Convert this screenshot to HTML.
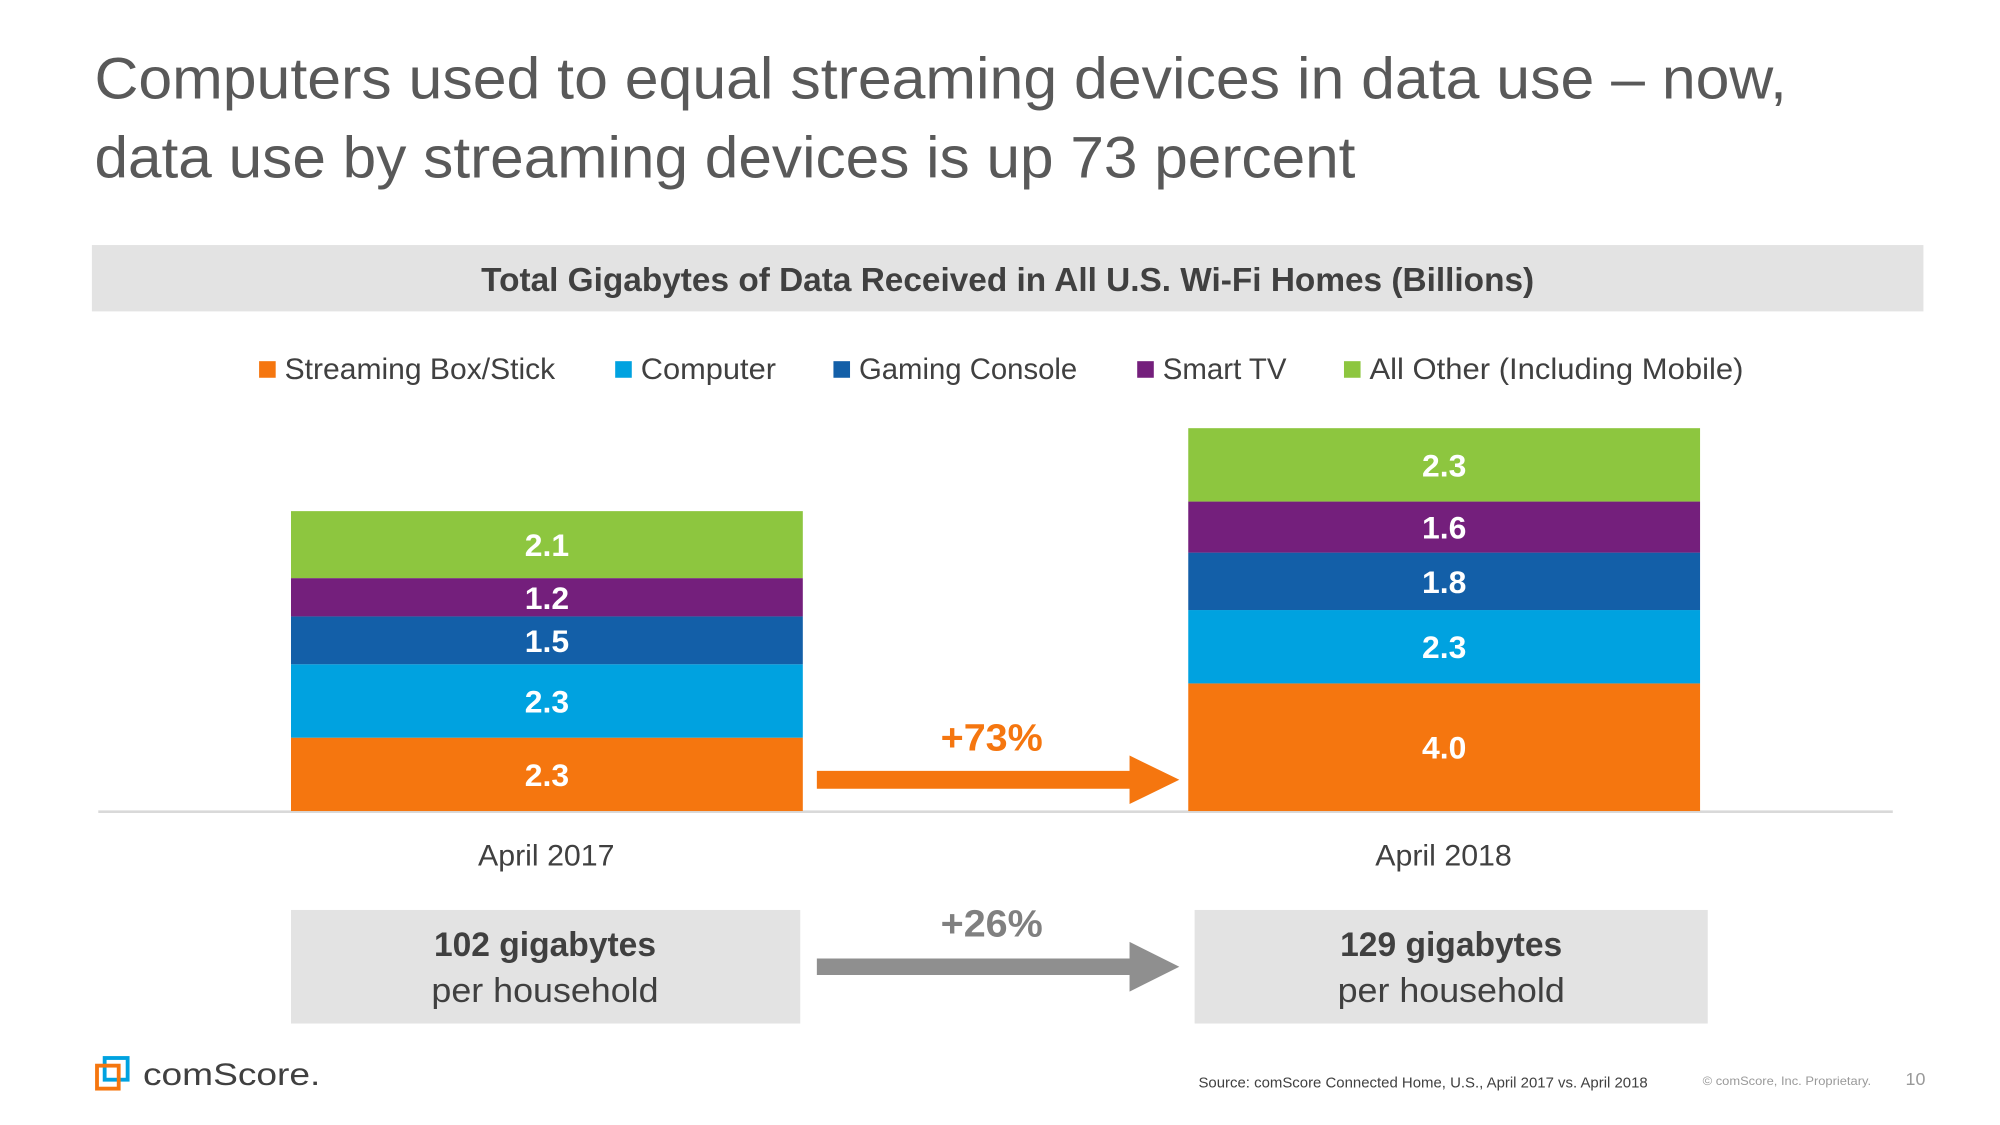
<!DOCTYPE html>
<html><head><meta charset="utf-8">
<style>
html,body{margin:0;padding:0;background:#fff;}
svg{display:block;font-family:"Liberation Sans",sans-serif;}
</style></head>
<body>
<svg id="chart" width="2000" height="1125" viewBox="0 0 1567 881.5" preserveAspectRatio="none" xmlns="http://www.w3.org/2000/svg">
  <text x="74" y="77" font-size="46" fill="#595959" textLength="1326" lengthAdjust="spacingAndGlyphs">Computers used to equal streaming devices in data use – now,</text>
  <text x="74" y="139" font-size="46" fill="#595959" textLength="988" lengthAdjust="spacingAndGlyphs">data use by streaming devices is up 73 percent</text>

  <rect x="72" y="192" width="1435" height="52" fill="#e3e3e3"/>
  <text x="377" y="228" font-size="26" font-weight="bold" fill="#404040" textLength="825" lengthAdjust="spacingAndGlyphs">Total Gigabytes of Data Received in All U.S. Wi-Fi Homes (Billions)</text>

  <g id="legend"></g>

  <line x1="77" y1="636" x2="1483" y2="636" stroke="#d9d9d9" stroke-width="2"/>
  <g id="bars"></g>

  <text x="428" y="678" font-size="23" fill="#404040" text-anchor="middle" textLength="107" lengthAdjust="spacingAndGlyphs">April 2017</text>
  <text x="1131" y="678" font-size="23" fill="#404040" text-anchor="middle" textLength="107" lengthAdjust="spacingAndGlyphs">April 2018</text>

  <g>
    <polygon points="640,604 885,604 885,592 924,611 885,630 885,618 640,618" fill="#f5760f"/>
  </g>
  <text x="777" y="588" font-size="30" font-weight="bold" fill="#f5760f" text-anchor="middle" textLength="80" lengthAdjust="spacingAndGlyphs">+73%</text>

  <rect x="228" y="713" width="399" height="89" fill="#e3e3e3"/>
  <text x="427" y="749" font-size="27" font-weight="bold" fill="#404040" text-anchor="middle" textLength="174" lengthAdjust="spacingAndGlyphs">102 gigabytes</text>
  <text x="427" y="785" font-size="27" fill="#404040" text-anchor="middle" textLength="178" lengthAdjust="spacingAndGlyphs">per household</text>

  <rect x="936" y="713" width="402" height="89" fill="#e3e3e3"/>
  <text x="1137" y="749" font-size="27" font-weight="bold" fill="#404040" text-anchor="middle" textLength="174" lengthAdjust="spacingAndGlyphs">129 gigabytes</text>
  <text x="1137" y="785" font-size="27" fill="#404040" text-anchor="middle" textLength="178" lengthAdjust="spacingAndGlyphs">per household</text>

  <g>
    <polygon points="640,751 885,751 885,738 924,757.5 885,777 885,764 640,764" fill="#8f8f8f"/>
  </g>
  <text x="777" y="734" font-size="30" fill="#808080" font-weight="bold" text-anchor="middle" textLength="80" lengthAdjust="spacingAndGlyphs">+26%</text>

  <g>
    <rect x="82" y="829" width="18" height="17" fill="none" stroke="#00a2e0" stroke-width="3"/>
    <rect x="76" y="835" width="17" height="18" fill="none" stroke="#f5760f" stroke-width="3"/>
    <text x="112" y="850" font-size="25" fill="#404040" textLength="139" lengthAdjust="spacingAndGlyphs">comScore.</text>
  </g>
  <text x="939" y="852" font-size="11.5" fill="#404040" textLength="352" lengthAdjust="spacingAndGlyphs">Source: comScore Connected Home, U.S., April 2017 vs. April 2018</text>
  <text x="1334" y="850" font-size="9.5" fill="#999" textLength="132" lengthAdjust="spacingAndGlyphs">© comScore, Inc. Proprietary.</text>
  <text x="1493" y="850" font-size="14" fill="#999">10</text>
</svg>
<script>
const categories = ["April 2017", "April 2018"];
const seriesNames = ["Streaming Box/Stick", "Computer", "Gaming Console", "Smart TV", "All Other (Including Mobile)"];
const streamingValues = [2.3, 4.0];
const computerValues = [2.3, 2.3];
const gamingValues = [1.5, 1.8];
const smartTvValues = [1.2, 1.6];
const otherValues = [2.1, 2.3];

const NS = "http://www.w3.org/2000/svg";
const colors = ["#f5760f", "#00a2e0", "#135fa8", "#741f7c", "#8dc63f"];
const series = [streamingValues, computerValues, gamingValues, smartTvValues, otherValues];
const barX = [228, 931];
const barW = 401;
const baseY = 635.5;
const pxPerUnit = 25;
function yScale(v) { return baseY - v * pxPerUnit; }

const barsG = document.getElementById('bars');
categories.forEach((cat, ci) => {
  let cum = 0;
  series.forEach((vals, si) => {
    const v = vals[ci];
    const y0 = yScale(cum), y1 = yScale(cum + v);
    const r = document.createElementNS(NS, 'rect');
    r.setAttribute('x', barX[ci]); r.setAttribute('y', y1);
    r.setAttribute('width', barW); r.setAttribute('height', y0 - y1);
    r.setAttribute('fill', colors[si]);
    
    
    barsG.appendChild(r);
    const t = document.createElementNS(NS, 'text');
    t.setAttribute('x', barX[ci] + barW / 2);
    t.setAttribute('y', (y0 + y1) / 2 + 9);
    t.setAttribute('text-anchor', 'middle');
    t.setAttribute('font-size', '25');
    t.setAttribute('font-weight', 'bold');
    t.setAttribute('fill', '#fff');
    t.textContent = v.toFixed(1);
    
    
    barsG.appendChild(t);
    cum += v;
  });
});

const legendG = document.getElementById('legend');
const legX = [203, 482, 653, 891, 1053];
const legW = [212, 106, 171, 97, 293];
seriesNames.forEach((name, i) => {
  const g = document.createElementNS(NS, 'g');
  
  
  const s = document.createElementNS(NS, 'rect');
  s.setAttribute('x', legX[i]); s.setAttribute('y', 283);
  s.setAttribute('width', 13); s.setAttribute('height', 13);
  s.setAttribute('fill', colors[i]);
  g.appendChild(s);
  const t = document.createElementNS(NS, 'text');
  t.setAttribute('x', legX[i] + 20); t.setAttribute('y', 297);
  t.setAttribute('font-size', '23'); t.setAttribute('fill', '#404040');
  t.setAttribute('textLength', legW[i]); t.setAttribute('lengthAdjust', 'spacingAndGlyphs');
  t.textContent = name;
  g.appendChild(t);
  legendG.appendChild(g);
});
</script>
</body></html>
